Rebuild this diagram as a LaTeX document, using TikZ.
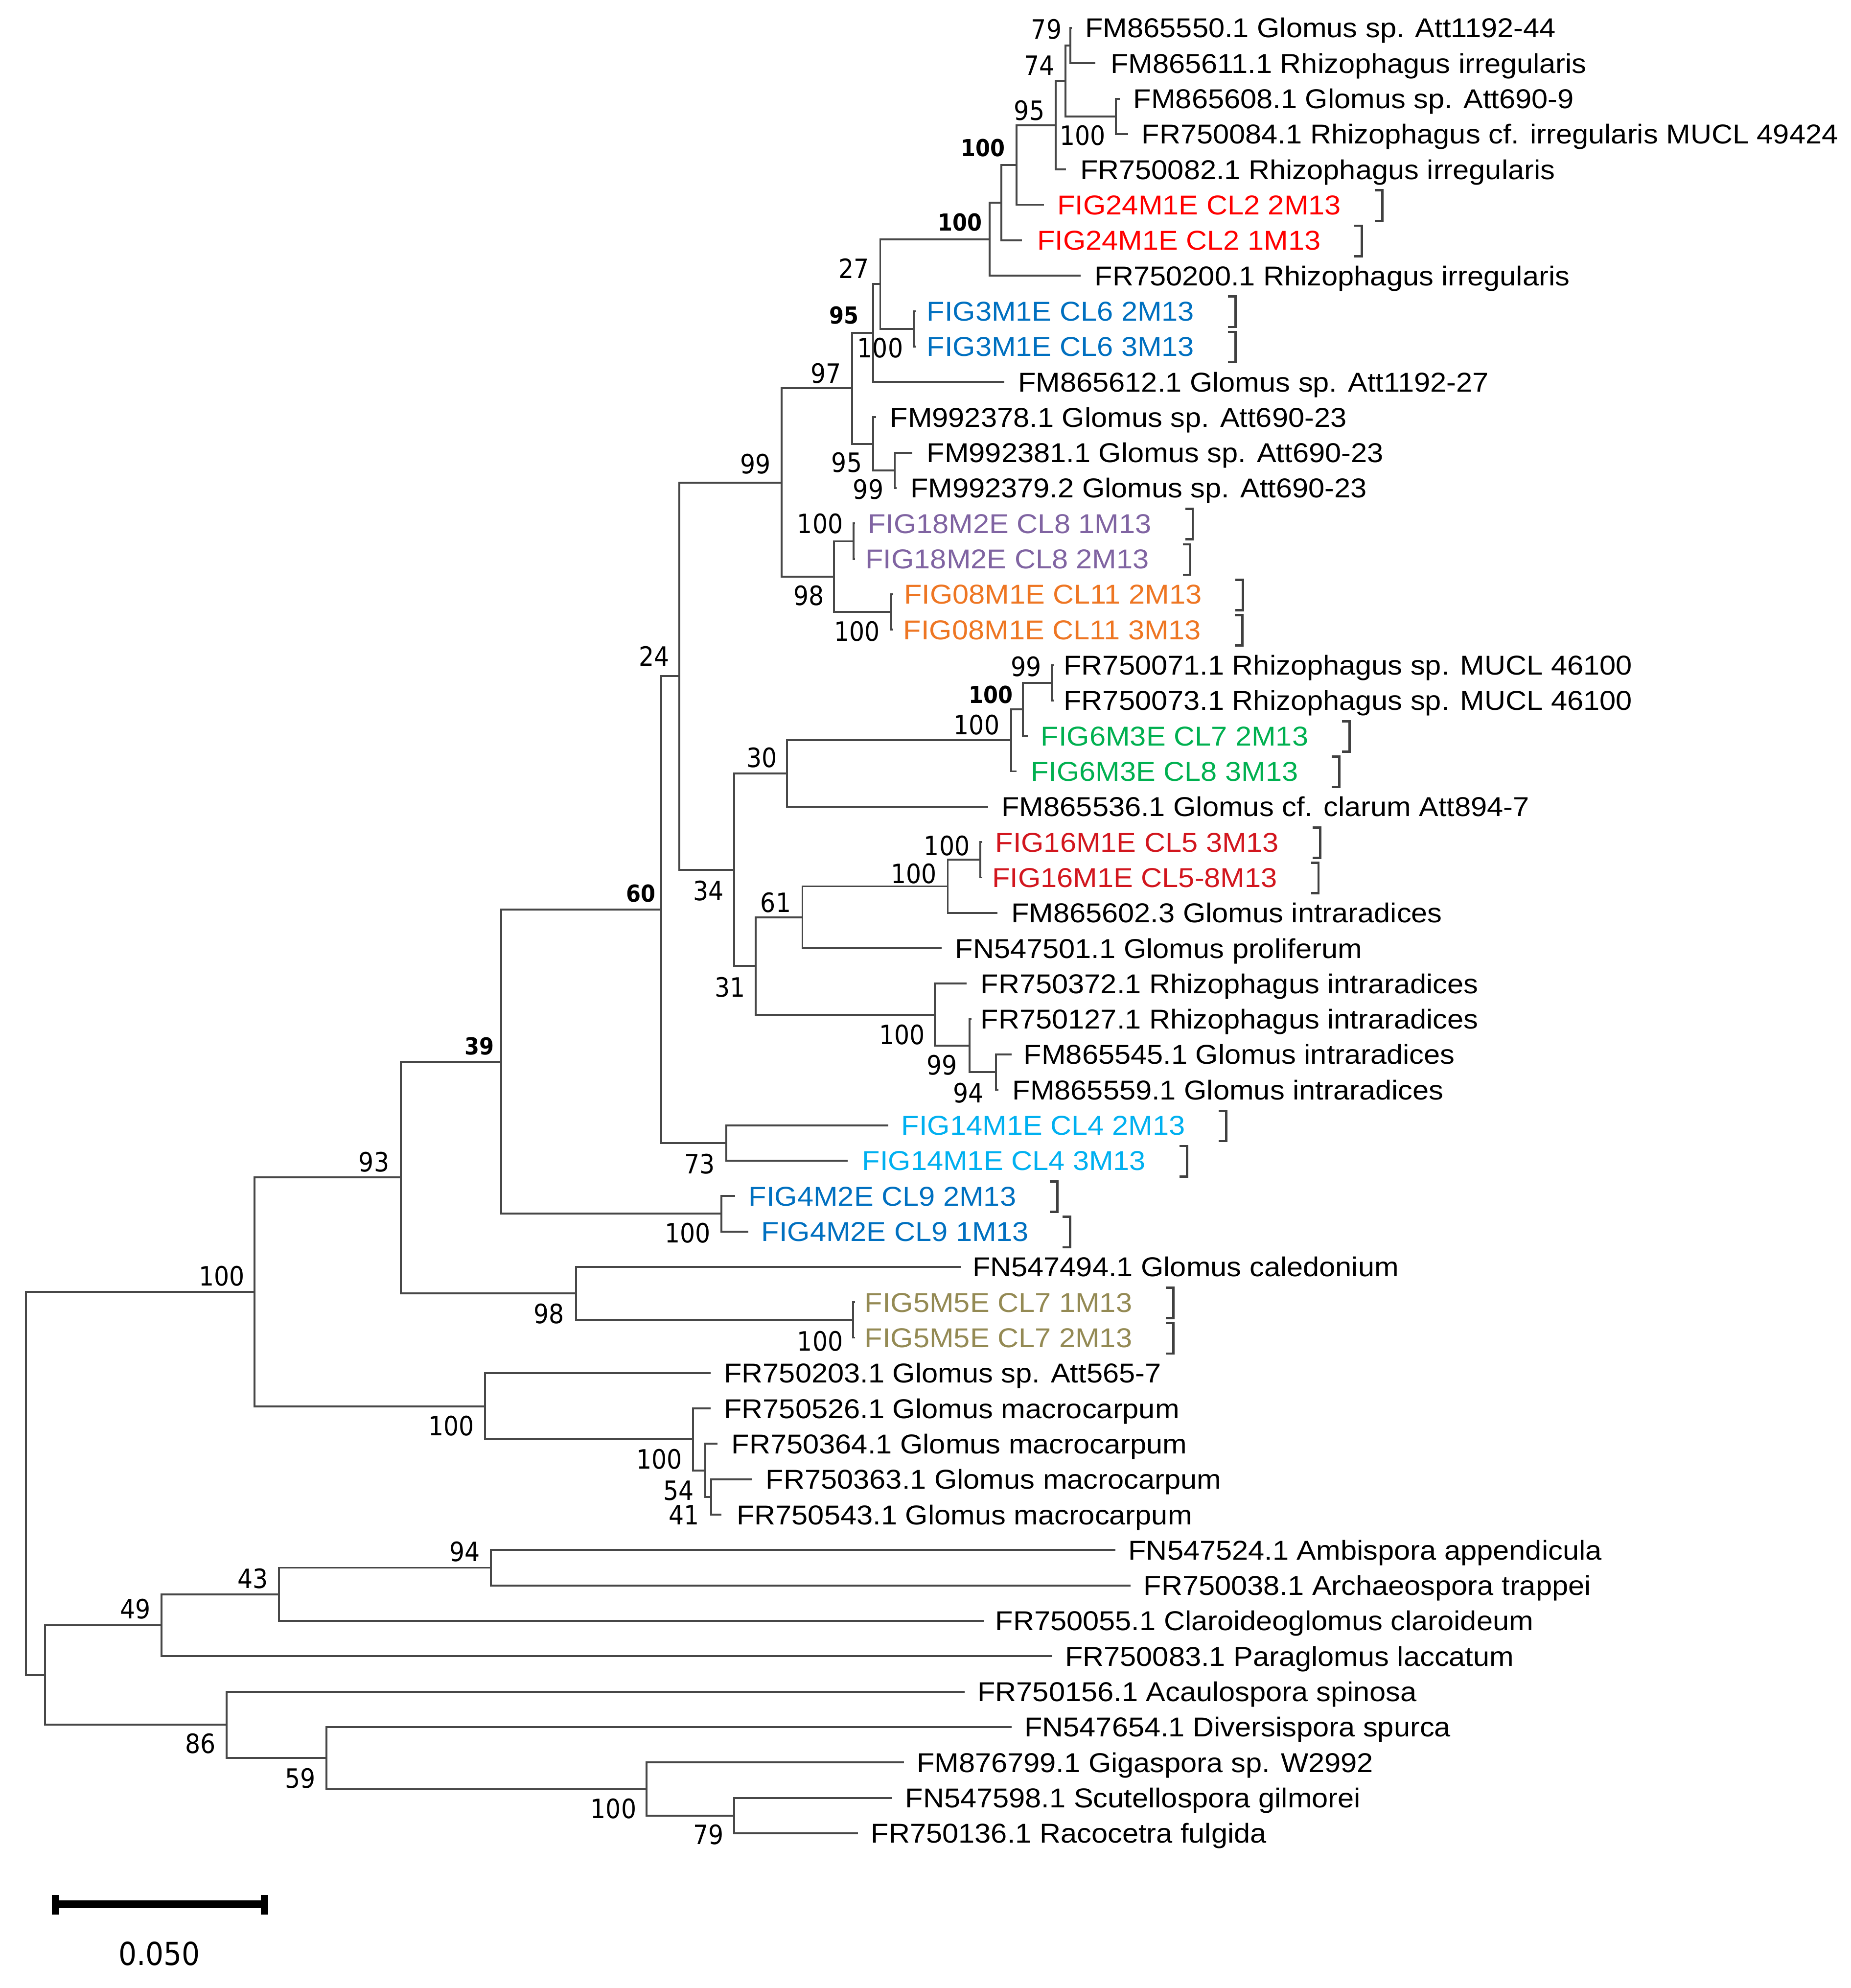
\documentclass[tikz,border=0pt]{standalone}
\usepackage{fontspec}
\newfontfamily\tipfont[FakeStretch=1.07]{Liberation Sans}
\newfontfamily\numfont[FakeStretch=0.9]{DejaVu Sans}
\definecolor{cred}{HTML}{FF0000}
\definecolor{cblue}{HTML}{0070C0}
\definecolor{cpurple}{HTML}{8064A2}
\definecolor{corange}{HTML}{EE7623}
\definecolor{cgreen}{HTML}{00B050}
\definecolor{cdred}{HTML}{D2161E}
\definecolor{clblue}{HTML}{00B0F0}
\definecolor{colive}{HTML}{948A54}
\newcommand\RY[1]{22+27.92*(#1)}
\begin{document}
\begin{tikzpicture}[x=1pt,y=-1pt,
  br/.style={draw=black!72, line width=1.5pt},
  tip/.style={anchor=west, inner sep=0pt, font=\tipfont\fontsize{21.5}{25}\selectfont, text height=15.4pt, text depth=0pt},
  bs/.style={inner sep=0pt, font=\numfont\fontsize{21}{23}\selectfont, text height=15.3pt, text depth=0pt},
  bsb/.style={inner sep=0pt, font=\numfont\bfseries\fontsize{18.5}{21}\selectfont, text height=13.5pt, text depth=0pt},
  brk/.style={draw=black!75, line width=1.8pt},
  sbar/.style={draw=black, line width=6pt}]
\useasboundingbox (0,0) rectangle (1460,1568);
\fill[white] (0,0) rectangle (1460,1568);
% internal nodes
\coordinate (G) at (844.3,{\RY{0.5}});
\coordinate (F) at (880.3,{\RY{2.5}});
\coordinate (E) at (840.4,{\RY{1.5}});
\coordinate (D) at (833,{\RY{2.75}});
\coordinate (C) at (802,{\RY{3.875}});
\coordinate (B) at (790,{\RY{4.9375}});
\coordinate (A) at (780.6,{\RY{5.96875}});
\coordinate (I) at (720.9,{\RY{8.5}});
\coordinate (H) at (694.4,{\RY{7.234}});
\coordinate (J) at (688.7,{\RY{8.617}});
\coordinate (M) at (706,{\RY{12.5}});
\coordinate (L) at (688.7,{\RY{11.75}});
\coordinate (K) at (672.2,{\RY{10.184}});
\coordinate (Q) at (673.2,{\RY{14.5}});
\coordinate (R) at (703,{\RY{16.5}});
\coordinate (P) at (657.9,{\RY{15.5}});
\coordinate (O) at (616.5,{\RY{12.842}});
\coordinate (Z) at (829.8,{\RY{18.5}});
\coordinate (Y) at (806.9,{\RY{19.25}});
\coordinate (X) at (797.7,{\RY{20.125}});
\coordinate (V) at (620.9,{\RY{21.0625}});
\coordinate (AB) at (773.4,{\RY{23.5}});
\coordinate (AA) at (747.7,{\RY{24.25}});
\coordinate (W) at (633,{\RY{25.125}});
\coordinate (AG) at (785.6,{\RY{29.5}});
\coordinate (AF) at (765,{\RY{28.75}});
\coordinate (AE) at (737.4,{\RY{27.875}});
\coordinate (AD) at (596.3,{\RY{26.5}});
\coordinate (U) at (579,{\RY{23.78125}});
\coordinate (N) at (536,{\RY{18.3115}});
\coordinate (AC) at (573,{\RY{31.5}});
\coordinate (T) at (521.8,{\RY{24.906}});
\coordinate (AK) at (569,{\RY{33.5}});
\coordinate (AH) at (395.3,{\RY{29.203}});
\coordinate (AL) at (673,{\RY{36.5}});
\coordinate (AJ) at (454.4,{\RY{35.75}});
\coordinate (AI) at (316.3,{\RY{32.477}});
\coordinate (AQ) at (561,{\RY{41.5}});
\coordinate (AP) at (556.5,{\RY{40.75}});
\coordinate (AO) at (546.6,{\RY{39.875}});
\coordinate (AN) at (382.6,{\RY{38.9375}});
\coordinate (AM) at (200.8,{\RY{35.707}});
\coordinate (AV) at (387.4,{\RY{43.5}});
\coordinate (AU) at (220,{\RY{44.25}});
\coordinate (AS) at (127.3,{\RY{45.125}});
\coordinate (AY) at (579,{\RY{50.5}});
\coordinate (AX) at (509.9,{\RY{49.75}});
\coordinate (AW) at (257.7,{\RY{48.875}});
\coordinate (AT) at (178.7,{\RY{47.9375}});
\coordinate (AR) at (35.6,{\RY{46.53}});
\coordinate (ROOT) at (20.5,{\RY{41.12}});
% leaves
\foreach \i/\xe/\xt/\c/\txt in {
0/845.6/856/black/FM865550.1 Glomus sp. Att1192-44,
1/864/876/black/FM865611.1 Rhizophagus irregularis,
2/883.5/894/black/FM865608.1 Glomus sp. Att690-9,
3/890/900.5/black/FR750084.1 Rhizophagus cf. irregularis MUCL 49424,
4/841/852/black/FR750082.1 Rhizophagus irregularis,
5/823.7/834/cred/FIG24M1E CL2 2M13,
6/806.3/818/cred/FIG24M1E CL2 1M13,
7/852.7/863.5/black/FR750200.1 Rhizophagus irregularis,
8/722.4/731/cblue/FIG3M1E CL6 2M13,
9/722.4/731/cblue/FIG3M1E CL6 3M13,
10/792.4/803/black/FM865612.1 Glomus sp. Att1192-27,
11/691/702/black/FM992378.1 Glomus sp. Att690-23,
12/719.6/731/black/FM992381.1 Glomus sp. Att690-23,
13/707.5/718/black/FM992379.2 Glomus sp. Att690-23,
14/674.7/684.5/cpurple/FIG18M2E CL8 1M13,
15/674.7/682.6/cpurple/FIG18M2E CL8 2M13,
16/704.5/713/corange/FIG08M1E CL11 2M13,
17/704.5/712.5/corange/FIG08M1E CL11 3M13,
18/831.3/839/black/FR750071.1 Rhizophagus sp. MUCL 46100,
19/831.3/839/black/FR750073.1 Rhizophagus sp. MUCL 46100,
20/810.8/821/cgreen/FIG6M3E CL7 2M13,
21/802/813/cgreen/FIG6M3E CL8 3M13,
22/779.4/790/black/FM865536.1 Glomus cf. clarum Att894-7,
23/774.9/785/cdred/FIG16M1E CL5 3M13,
24/774.9/782.5/cdred/FIG16M1E CL5-8M13,
25/786.7/797.5/black/FM865602.3 Glomus intraradices,
26/743/753.4/black/FN547501.1 Glomus proliferum,
27/762.6/773.5/black/FR750372.1 Rhizophagus intraradices,
28/766.5/773.5/black/FR750127.1 Rhizophagus intraradices,
29/798/807.5/black/FM865545.1 Glomus intraradices,
30/787.5/798.5/black/FM865559.1 Glomus intraradices,
31/700.7/711/clblue/FIG14M1E CL4 2M13,
32/668.6/680/clblue/FIG14M1E CL4 3M13,
33/579.8/590.5/cblue/FIG4M2E CL9 2M13,
34/590.5/600.5/cblue/FIG4M2E CL9 1M13,
35/758/767/black/FN547494.1 Glomus caledonium,
36/674.5/682/colive/FIG5M5E CL7 1M13,
37/674.5/682/colive/FIG5M5E CL7 2M13,
38/560.5/571/black/FR750203.1 Glomus sp. Att565-7,
39/560.5/571/black/FR750526.1 Glomus macrocarpum,
40/566/577/black/FR750364.1 Glomus macrocarpum,
41/592.9/604/black/FR750363.1 Glomus macrocarpum,
42/569/581/black/FR750543.1 Glomus macrocarpum,
43/880/890/black/FN547524.1 Ambispora appendicula,
44/892/902/black/FR750038.1 Archaeospora trappei,
45/776/785/black/FR750055.1 Claroideoglomus claroideum,
46/830/840/black/FR750083.1 Paraglomus laccatum,
47/761/771/black/FR750156.1 Acaulospora spinosa,
48/798/808/black/FN547654.1 Diversispora spurca,
49/713/723/black/FM876799.1 Gigaspora sp. W2992,
50/704/714/black/FN547598.1 Scutellospora gilmorei,
51/677/687/black/FR750136.1 Racocetra fulgida}
{
  \coordinate (e\i) at (\xe,{\RY{\i}});
  \node[tip,text=\c] (t\i) at (\xt,{\RY{\i}}) {\txt};
}
% branches
\foreach \p/\q in {G/e0,G/e1,F/e2,F/e3,E/G,E/F,D/E,D/e4,C/D,C/e5,B/C,B/e6,A/B,A/e7,
  I/e8,I/e9,H/A,H/I,J/H,J/e10,M/e12,M/e13,L/e11,L/M,K/J,K/L,
  Q/e14,Q/e15,R/e16,R/e17,P/Q,P/R,O/K,O/P,
  Z/e18,Z/e19,Y/Z,Y/e20,X/Y,X/e21,V/X,V/e22,
  AB/e23,AB/e24,AA/AB,AA/e25,W/AA,W/e26,AG/e29,AG/e30,AF/e28,AF/AG,AE/e27,AE/AF,
  AD/W,AD/AE,U/V,U/AD,N/O,N/U,AC/e31,AC/e32,T/N,T/AC,AK/e33,AK/e34,AH/T,AH/AK,
  AL/e36,AL/e37,AJ/e35,AJ/AL,AI/AH,AI/AJ,
  AQ/e41,AQ/e42,AP/e40,AP/AQ,AO/e39,AO/AP,AN/e38,AN/AO,AM/AI,AM/AN,
  AV/e43,AV/e44,AU/AV,AU/e45,AS/AU,AS/e46,
  AY/e50,AY/e51,AX/e49,AX/AY,AW/e48,AW/AX,AT/e47,AT/AW,AR/AS,AR/AT,
  ROOT/AM,ROOT/AR}
  \draw[br] (\p) |- (\q);
% brackets
\foreach \k in {5,6,8,9,14,15,16,17,20,21,23,24,31,32,33,34,36,37}
  \draw[brk] ([xshift=26.3pt,yshift=11.5pt]t\k.east) -- ++(6,0) -- ++(0,24) -- ++(-6,0);
% bootstrap values
\foreach \n/\x/\y/\v in {
g/825.5/23/79, e/820/51.7/74, d/812/87/95, f/854/107/100, i/694.4/274.5/100,
h/673.5/212/27, k/651.5/294.4/97, l/668/364.6/95, m/685/386/99, o/596/366/99,
q/647/413/100, p/638/469.6/98, r/676/498/100, n/516/517.5/24, z/809.5/525.6/99,
x/770.5/571.6/100, v/601/597.5/30, ab/747/667/100, aa/721/689/100, u/559/702.5/34,
w/612/712/61, ad/576/778.5/31, ae/711.5/816/100, af/743/840/99, ag/764/862/94,
ac/552/918/73, ai/295/916.5/93, ak/542.5/972.4/100, aj/433/1036/98, am/175/1006.5/100,
al/647/1058/100, an/356/1124.6/100, ao/520/1151/100, ap/535.5/1175.7/54, aq/539.5/1195/41,
av/366.6/1224/94, au/199.6/1245/43, as/106.7/1269/49, at/158/1375/86, aw/237/1402.5/59,
ax/484/1426.5/100, ay/559/1447/79}
  \node[bs] (b\n) at (\x,\y) {\v};
\foreach \n/\x/\y/\v in {
c/775.5/116.7/100, a/757.5/175.3/100, j/666/248.5/95, y/781.5/548/100, t/505.5/704.6/60, ah/378/825/39}
  \node[bsb] (b\n) at (\x,\y) {\v};
% scale bar
\coordinate (sb1) at (41,1502);
\coordinate (sb2) at (211.4,1502);
\draw[sbar] (sb1) -- (sb2);
\draw[draw=black, line width=5.6pt] ([xshift=2.8pt,yshift=7.5pt]sb1) -- ++(0,15.5);
\draw[draw=black, line width=5.6pt] ([xshift=-2.8pt,yshift=7.5pt]sb2) -- ++(0,15.5);
\node[inner sep=0pt, font=\numfont\fontsize{25}{27}\selectfont, text height=18.2pt, text depth=0pt] (sblabel) at (125.7,1541) {0.050};
\end{tikzpicture}
\end{document}
